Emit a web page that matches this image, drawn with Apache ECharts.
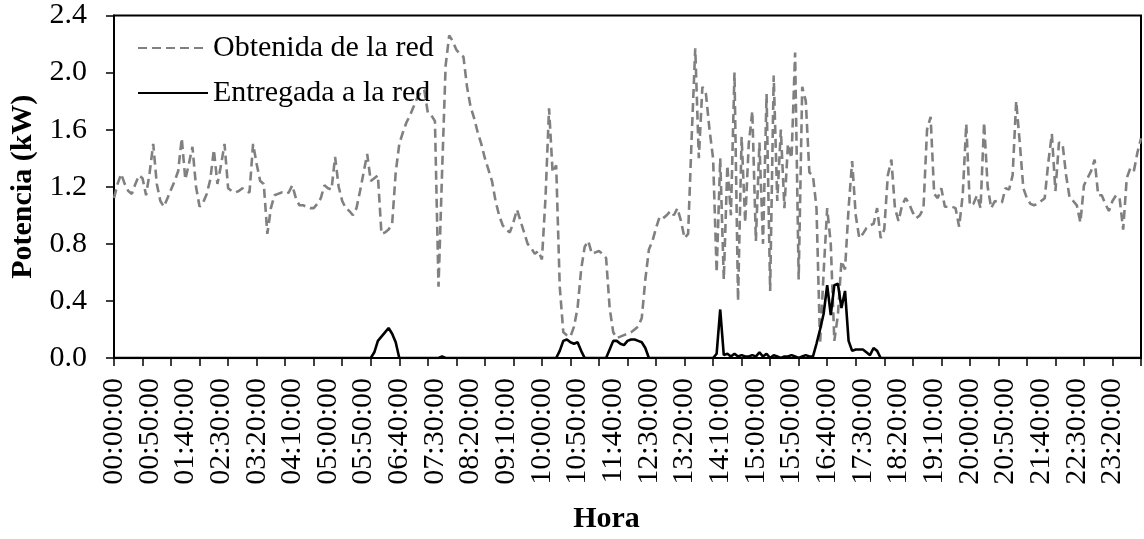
<!DOCTYPE html>
<html>
<head>
<meta charset="utf-8">
<script src="https://cdn.jsdelivr.net/npm/echarts@6/dist/echarts.min.js"></script>
<style>
html,body{margin:0;padding:0;background:#fff;}
#chart{width:1144px;height:539px;}
</style>
</head>
<body>
<div id="chart"></div>
<script>
// Categories: 5-minute steps from 00:00:00 to 24:00:00 (289 points)
const stepMinutes = 5;
const pointCount = 289;
const horas = [];
for (let k = 0; k < pointCount; k++) {
  const m = k * stepMinutes;
  const hh = String(Math.floor(m / 60)).padStart(2, '0');
  const mm = String(m % 60).padStart(2, '0');
  horas.push(hh + ':' + mm + ':00');
}

const seriesNames = ['Obtenida de la red', 'Entregada a la red'];
const yTicks = [0, 0.4, 0.8, 1.2, 1.6, 2.0, 2.4];

// Potencia obtenida de la red (kW)
const obtenida = [
  1.12,1.22,1.29,1.22,1.17,1.15,1.22,1.28,1.26,1.14,
  1.30,1.50,1.22,1.10,1.06,1.12,1.18,1.24,1.31,1.54,
  1.25,1.36,1.48,1.20,1.06,1.09,1.15,1.25,1.46,1.22,
  1.35,1.50,1.19,1.17,1.16,1.17,1.19,1.17,1.16,1.50,
  1.36,1.24,1.22,0.87,1.05,1.14,1.15,1.16,1.15,1.16,
  1.21,1.12,1.07,1.07,1.06,1.05,1.05,1.08,1.12,1.21,
  1.19,1.18,1.41,1.20,1.10,1.05,1.03,1.00,1.05,1.17,
  1.30,1.43,1.24,1.26,1.28,0.87,0.88,0.90,0.94,1.30,
  1.50,1.58,1.65,1.70,1.76,1.82,1.86,1.88,1.72,1.70,
  1.66,0.50,1.30,2.05,2.26,2.22,2.16,2.13,2.11,1.90,
  1.76,1.68,1.58,1.50,1.40,1.32,1.24,1.10,1.00,0.93,
  0.90,0.88,0.95,1.04,0.96,0.88,0.80,0.77,0.73,0.75,
  0.69,1.12,1.75,1.30,1.35,0.50,0.18,0.16,0.15,0.22,
  0.35,0.62,0.78,0.82,0.73,0.74,0.75,0.73,0.70,0.35,
  0.18,0.14,0.15,0.16,0.17,0.18,0.20,0.22,0.28,0.55,
  0.76,0.82,0.91,0.99,0.98,1.00,1.03,1.00,1.05,0.96,
  0.84,0.87,1.55,2.17,1.40,1.90,1.85,1.60,1.40,0.60,
  1.40,0.55,1.35,1.00,2.00,0.40,1.55,0.95,1.50,1.73,
  0.82,1.51,0.80,1.85,0.47,1.98,1.10,1.60,1.05,1.50,
  1.40,2.14,0.55,1.90,1.80,1.30,1.28,1.05,0.10,0.60,
  1.05,0.80,0.12,0.30,0.68,0.62,1.05,1.38,1.00,0.84,
  0.87,0.91,0.93,0.94,1.05,0.84,0.90,1.28,1.39,1.05,
  0.96,1.07,1.12,1.08,1.02,0.98,1.00,1.05,1.60,1.69,
  1.15,1.12,1.19,1.06,1.06,1.06,1.05,0.92,1.14,1.64,
  1.07,1.08,1.14,1.05,1.65,1.20,1.05,1.10,1.09,1.09,
  1.19,1.18,1.28,1.80,1.51,1.19,1.12,1.08,1.07,1.08,
  1.10,1.12,1.37,1.57,1.17,1.51,1.50,1.28,1.12,1.10,
  1.07,0.95,1.21,1.26,1.31,1.39,1.14,1.14,1.08,1.03,
  1.10,1.14,1.12,0.90,1.26,1.33,1.31,1.44,1.54
];

// Potencia entregada a la red (kW)
const entregada = [
  0,0,0,0,0,0,0,0,0,0,
  0,0,0,0,0,0,0,0,0,0,
  0,0,0,0,0,0,0,0,0,0,
  0,0,0,0,0,0,0,0,0,0,
  0,0,0,0,0,0,0,0,0,0,
  0,0,0,0,0,0,0,0,0,0,
  0,0,0,0,0,0,0,0,0,0,
  0,0,0,0.04,0.12,0.15,0.18,0.21,0.17,0.11,
  0,0,0,0,0,0,0,0,0,0,
  0,0,0.01,0,0,0,0,0,0,0,
  0,0,0,0,0,0,0,0,0,0,
  0,0,0,0,0,0,0,0,0,0,
  0,0,0,0,0,0.05,0.12,0.13,0.11,0.10,
  0.11,0.05,0,0,0,0,0,0,0,0.06,
  0.12,0.12,0.10,0.09,0.12,0.13,0.13,0.12,0.11,0.07,
  0,0,0,0,0,0,0,0,0,0,
  0,0,0,0,0,0,0,0,0,0.03,
  0.34,0.02,0.03,0.01,0.03,0.01,0.02,0.01,0.01,0.02,
  0.01,0.04,0.01,0.03,0,0.02,0.01,0,0.01,0.01,
  0.02,0.01,0,0.01,0.02,0.01,0.01,0.10,0.20,0.31,
  0.51,0.30,0.51,0.52,0.35,0.47,0.12,0.05,0.06,0.06,
  0.06,0.04,0.02,0.07,0.05,0,0,0,0,0,
  0,0,0,0,0,0,0,0,0,0,
  0,0,0,0,0,0,0,0,0,0,
  0,0,0,0,0,0,0,0,0,0,
  0,0,0,0,0,0,0,0,0,0,
  0,0,0,0,0,0,0,0,0,0,
  0,0,0,0,0,0,0,0,0,0,
  0,0,0,0,0,0,0,0,0
];

const FONT = '"Liberation Serif", "Times New Roman", serif';
const chart = echarts.init(document.getElementById('chart'), null, {renderer: 'canvas'});
chart.setOption({
  animation: false,
  backgroundColor: '#ffffff',
  textStyle: {fontFamily: FONT, color: '#000'},
  grid: {
    left: 111, right: 3, top: 15.5, bottom: 177.3,
    show: true, borderColor: '#000', borderWidth: 2, backgroundColor: 'transparent'
  },
  legend: {
    orient: 'vertical',
    left: 132, top: 28,
    itemWidth: 70, itemHeight: 20, itemGap: 15,
    itemStyle: {opacity: 0, borderWidth: 0},
    textStyle: {fontFamily: FONT, fontSize: 30, color: '#000', lineHeight: 30},
    data: seriesNames
  },
  xAxis: {
    type: 'category',
    data: horas,
    boundaryGap: false,
    name: 'Hora',
    nameLocation: 'middle',
    nameGap: 146,
    nameTextStyle: {fontFamily: FONT, fontSize: 30, fontWeight: 'bold', color: '#000', padding: [0, 42, 0, 0]},
    axisLine: {show: true, onZero: false, lineStyle: {color: '#000', width: 2}},
    axisTick: {show: true, interval: 7, length: 8, inside: false, lineStyle: {color: '#000', width: 1.5}},
    axisLabel: {interval: 9, rotate: 90, margin: 20, fontFamily: FONT, fontSize: 30, color: '#000'},
    splitLine: {show: false}
  },
  yAxis: {
    type: 'value',
    min: yTicks[0], max: yTicks[yTicks.length - 1], interval: 0.4,
    name: 'Potencia (kW)',
    nameLocation: 'middle',
    nameGap: 76,
    nameTextStyle: {fontFamily: FONT, fontSize: 30, fontWeight: 'bold', color: '#000'},
    axisLine: {show: true, lineStyle: {color: '#000', width: 2}},
    axisTick: {show: true, length: 8, inside: false, lineStyle: {color: '#000', width: 1.5}},
    axisLabel: {margin: 27, fontFamily: FONT, fontSize: 30, color: '#000', formatter: v => v.toFixed(1)},
    splitLine: {show: false}
  },
  series: [
    {
      name: seriesNames[0],
      type: 'line',
      data: obtenida,
      symbol: 'none',
      showSymbol: false,
      smooth: false,
      lineStyle: {color: '#808080', width: 2.6, type: [9, 5]},
      itemStyle: {color: '#808080'},
      z: 2
    },
    {
      name: seriesNames[1],
      type: 'line',
      data: entregada,
      symbol: 'none',
      showSymbol: false,
      smooth: false,
      lineStyle: {color: '#000000', width: 2.6, type: 'solid'},
      itemStyle: {color: '#000000'},
      z: 3
    }
  ]
});
</script>
</body>
</html>
